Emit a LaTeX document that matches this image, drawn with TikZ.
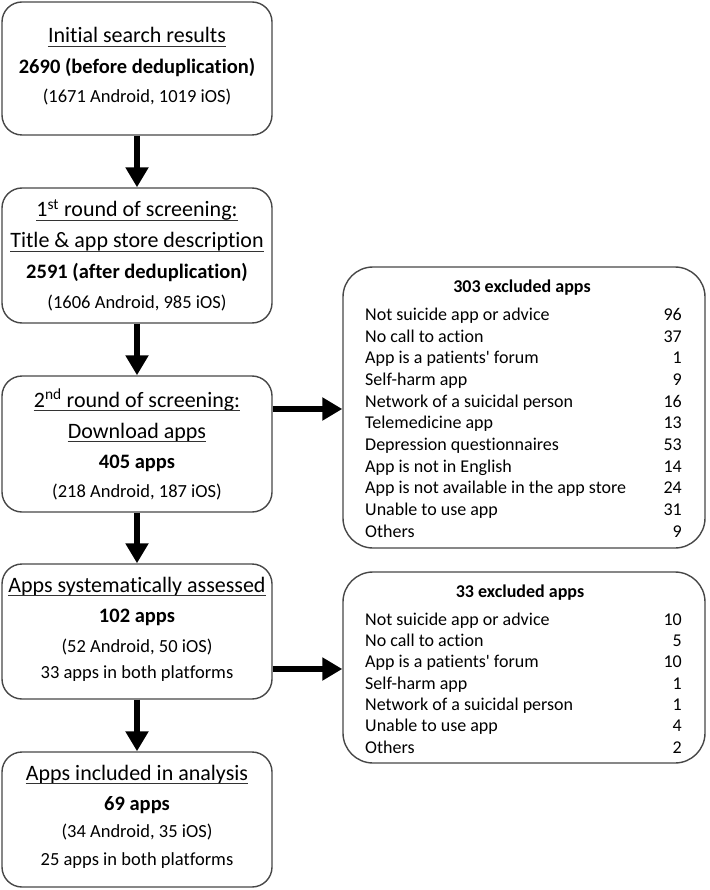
\documentclass[tikz,border=0pt]{standalone}
\usepackage{fontspec}
\setmainfont[Ligatures={NoCommon}]{Carlito}
\usetikzlibrary{arrows.meta}
\begin{document}
\begin{tikzpicture}[x=1pt,y=-1pt,
  box/.style={draw=black!72,line width=1.4pt,rounded corners=20pt,minimum width=270pt,inner sep=0pt},
  rbox/.style={draw=black!72,line width=1.4pt,rounded corners=30pt,minimum width=362pt,inner sep=0pt},
  head/.style={anchor=base,inner sep=0pt,font=\fontsize{22}{26}\selectfont},
  bold/.style={anchor=base,inner sep=0pt,font=\fontsize{20.5}{24}\selectfont\bfseries},
  sub/.style={anchor=base,inner sep=0pt,font=\fontsize{18.5}{22}\selectfont},
  rtitle/.style={anchor=base,inner sep=0pt,font=\fontsize{18}{22}\selectfont\bfseries},
  rlab/.style={anchor=base west,inner sep=0pt,font=\fontsize{18}{22}\selectfont},
  rnum/.style={anchor=base east,inner sep=0pt,font=\fontsize{18}{22}\selectfont},
  uline/.style={line width=1.1pt,black!80},
  flow/.style={line width=6.5pt,black,-{Triangle[width=22pt,length=20pt]}}]
\useasboundingbox (0,0) rectangle (709,890);

% left boxes
\node[box,minimum height=133pt] (b1) at (137,68.5) {};
\node[box,minimum height=135pt] (b2) at (137,255.5) {};
\node[box,minimum height=136pt] (b3) at (137,444) {};
\node[box,minimum height=135pt] (b4) at (137,631.5) {};
\node[box,minimum height=135pt] (b5) at (137,819.5) {};

% right boxes
\node[rbox,minimum height=281pt] (r1) at (524,407.5) {};
\node[rbox,minimum height=191pt] (r2) at (524,667.5) {};

% box 1 text
\node[head] (t1a) at (137,43) {Initial search results};
\draw[uline] ([yshift=-3.5pt]t1a.base west) -- ([yshift=-3.5pt]t1a.base east);
\node[bold] (t1b) at (137,74) {2690 (before deduplication)};
\node[sub] (t1c) at (137,103) {(1671 Android, 1019 iOS)};

% box 2 text
\node[head] (t2a) at (137,217) {1\textsuperscript{st} round of screening:};
\draw[uline] ([yshift=-3.5pt]t2a.base west) -- ([yshift=-3.5pt]t2a.base east);
\node[head] (t2b) at (137,248) {Title \& app store description};
\draw[uline] ([yshift=-3.5pt]t2b.base west) -- ([yshift=-3.5pt]t2b.base east);
\node[bold] (t2c) at (137,278) {2591 (after deduplication)};
\node[sub] (t2d) at (137,308) {(1606 Android, 985 iOS)};

% box 3 text
\node[head] (t3a) at (137,407) {2\textsuperscript{nd} round of screening:};
\draw[uline] ([yshift=-3.5pt]t3a.base west) -- ([yshift=-3.5pt]t3a.base east);
\node[head] (t3b) at (137,438) {Download apps};
\draw[uline] ([yshift=-3.5pt]t3b.base west) -- ([yshift=-3.5pt]t3b.base east);
\node[bold] (t3c) at (137,468) {405 apps};
\node[sub] (t3d) at (137,497) {(218 Android, 187 iOS)};

% box 4 text
\node[head] (t4a) at (137,592) {Apps systematically assessed};
\draw[uline] ([yshift=-3.5pt]t4a.base west) -- ([yshift=-3.5pt]t4a.base east);
\node[bold] (t4b) at (137,622) {102 apps};
\node[sub] (t4c) at (137,652) {(52 Android, 50 iOS)};
\node[sub] (t4d) at (137,678) {33 apps in both platforms};

% box 5 text
\node[head] (t5a) at (137,780) {Apps included in analysis};
\draw[uline] ([yshift=-3.5pt]t5a.base west) -- ([yshift=-3.5pt]t5a.base east);
\node[bold] (t5b) at (137,810) {69 apps};
\node[sub] (t5c) at (137,837) {(34 Android, 35 iOS)};
\node[sub] (t5d) at (137,865) {25 apps in both platforms};

% right box 1 text
\node[rtitle] (h1) at (522,292) {303 excluded apps};
\foreach \lab/\num/\yy [count=\i] in {
  Not suicide app or advice/96/320,
  No call to action/37/342,
  App is a patients\textquotesingle{} forum/1/363.5,
  Self-harm app/9/385,
  Network of a suicidal person/16/407,
  Telemedicine app/13/428.5,
  Depression questionnaires/53/450,
  App is not in English/14/472,
  App is not available in the app store/24/493.5,
  Unable to use app/31/515,
  Others/9/537}{
  \node[rlab] (la\i) at (365,\yy) {\lab};
  \node[rnum] (na\i) at (682,\yy) {\num};
}

% right box 2 text
\node[rtitle] (h2) at (520,597) {33 excluded apps};
\foreach \lab/\num/\yy [count=\i] in {
  Not suicide app or advice/10/625,
  No call to action/5/646.5,
  App is a patients\textquotesingle{} forum/10/667.5,
  Self-harm app/1/689,
  Network of a suicidal person/1/710,
  Unable to use app/4/731.5,
  Others/2/753}{
  \node[rlab] (lb\i) at (365,\yy) {\lab};
  \node[rnum] (nb\i) at (682,\yy) {\num};
}

% vertical arrows
\draw[flow] (b1.south) -- (b2.north);
\draw[flow] (b2.south) -- (b3.north);
\draw[flow] (b3.south) -- (b4.north);
\draw[flow] (b4.south) -- (b5.north);

% horizontal arrows
\coordinate (a3) at ([yshift=35pt]b3.east);
\coordinate (a4) at ([yshift=-37.5pt]b4.east);
\draw[flow] (a3) -- (r1.west |- a3);
\draw[flow] (a4) -- (r2.west |- a4);
\end{tikzpicture}
\end{document}
